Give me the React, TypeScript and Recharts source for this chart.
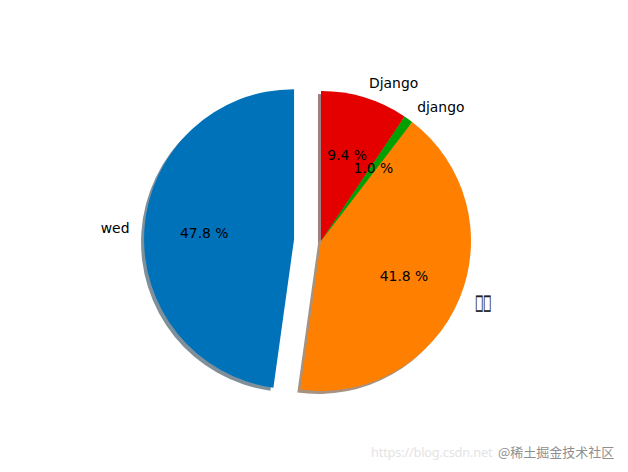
import React from "react";
import { PieChart, Pie, Cell } from "recharts";

const labels = ["wed", "\u25A1\u25A1", "django", "Django"];
const values = [47.8, 41.8, 1.0, 9.4];
const colors = ["#0072BA", "#FF7F00", "#00A000", "#E50000"];
const explode = [0.18, 0, 0, 0];

const W = 628;
const H = 472;
const CX = 321;
const CY = 241;
const R = 150;
const SHADOW = 0.02 * R;
const FONT = "'DejaVu Sans', sans-serif";
const FS = 13.9;

const total = values.reduce((a, b) => a + b, 0);
const data = labels.map((name, i) => ({ name, value: values[i] }));

const midAngles: number[] = [];
{
  let acc = 90;
  values.forEach((v) => {
    const span = (v / total) * 360;
    midAngles.push(acc + span / 2);
    acc += span;
  });
}
const rad = (d: number) => (d * Math.PI) / 180;
const centerOf = (i: number) => {
  const e = explode[i] * R;
  return {
    x: CX + e * Math.cos(rad(midAngles[i])),
    y: CY - e * Math.sin(rad(midAngles[i])),
  };
};
const exC = centerOf(0);

const shadowColor = (hex: string) => {
  const n = parseInt(hex.slice(1), 16);
  const r = Math.round(((n >> 16) & 255) * 0.3);
  const g = Math.round(((n >> 8) & 255) * 0.3);
  const b = Math.round((n & 255) * 0.3);
  return `rgba(${r},${g},${b},0.5)`;
};

const renderLabel = (props: any) => {
  const { index, midAngle } = props;
  const c = centerOf(index);
  const a = rad(midAngle);
  const lx = c.x + 1.1 * R * Math.cos(a);
  const ly = c.y - 1.1 * R * Math.sin(a);
  const px = c.x + 0.6 * R * Math.cos(a);
  const py = c.y - 0.6 * R * Math.sin(a);
  const pct = ((values[index] / total) * 100).toFixed(1) + " %";
  const isTofu = index === 1;
  return (
    <g key={`lbl-${index}`}>
      {isTofu ? (
        <text
          x={lx + 2}
          y={ly + 4}
          textAnchor="start"
          fontFamily={FONT}
          fontSize={21}
          textLength={16}
          lengthAdjust="spacingAndGlyphs"
          fill="#222"
          stroke="#222"
          strokeWidth={0.6}
          style={{ fill: "#222", stroke: "#222" }}
        >
          {labels[index]}
        </text>
      ) : (
        <text
          x={lx}
          y={ly}
          textAnchor={Math.cos(a) > 0 ? "start" : "end"}
          dominantBaseline="central"
          fontFamily={FONT}
          fontSize={FS}
          fill="#000"
        >
          {labels[index]}
        </text>
      )}
      <text
        x={px}
        y={py}
        textAnchor="middle"
        dominantBaseline="central"
        fontFamily={FONT}
        fontSize={FS}
        fill="#000"
      >
        {pct}
      </text>
    </g>
  );
};

export default function App() {
  return (
    <div style={{ position: "absolute", left: 0, top: 0, width: W, height: H, background: "#fff" }}>
      <PieChart width={W} height={H} margin={{ top: 0, right: 0, bottom: 0, left: 0 }}>
        <Pie
          data={data}
          dataKey="value"
          cx={CX - SHADOW}
          cy={CY + SHADOW}
          outerRadius={R}
          startAngle={90}
          endAngle={450}
          stroke="none"
          isAnimationActive={false}
        >
          {data.map((d, i) => (
            <Cell key={i} fill={explode[i] ? "transparent" : shadowColor(colors[i])} />
          ))}
        </Pie>
        <Pie
          data={data}
          dataKey="value"
          cx={exC.x - SHADOW}
          cy={exC.y + SHADOW}
          outerRadius={R}
          startAngle={90}
          endAngle={450}
          stroke="none"
          isAnimationActive={false}
        >
          {data.map((d, i) => (
            <Cell key={i} fill={explode[i] ? shadowColor(colors[i]) : "transparent"} />
          ))}
        </Pie>
        <Pie
          data={data}
          dataKey="value"
          cx={CX}
          cy={CY}
          outerRadius={R}
          startAngle={90}
          endAngle={450}
          stroke="none"
          isAnimationActive={false}
        >
          {data.map((d, i) => (
            <Cell key={i} fill={explode[i] ? "transparent" : colors[i]} />
          ))}
        </Pie>
        <Pie
          data={data}
          dataKey="value"
          cx={exC.x}
          cy={exC.y}
          outerRadius={R}
          startAngle={90}
          endAngle={450}
          stroke="none"
          isAnimationActive={false}
          labelLine={false}
          label={renderLabel}
        >
          {data.map((d, i) => (
            <Cell key={i} fill={explode[i] ? colors[i] : "transparent"} />
          ))}
        </Pie>
      </PieChart>
      <div
        style={{
          position: "absolute",
          left: 371,
          top: 443,
          fontFamily: "'Noto Sans', sans-serif",
          fontSize: 12.8,
          letterSpacing: -0.2,
          color: "#e4e4e4",
          whiteSpace: "nowrap",
        }}
      >
        https://blog.csdn.net
      </div>
      <div
        style={{
          position: "absolute",
          left: 498,
          top: 442,
          fontFamily: "'Noto Sans CJK SC', sans-serif",
          fontSize: 13,
          color: "#8f8f8f",
          textShadow: "0 0 2px #fff, 0 0 2px #fff",
          whiteSpace: "nowrap",
        }}
      >
        @稀土掘金技术社区
      </div>
    </div>
  );
}
